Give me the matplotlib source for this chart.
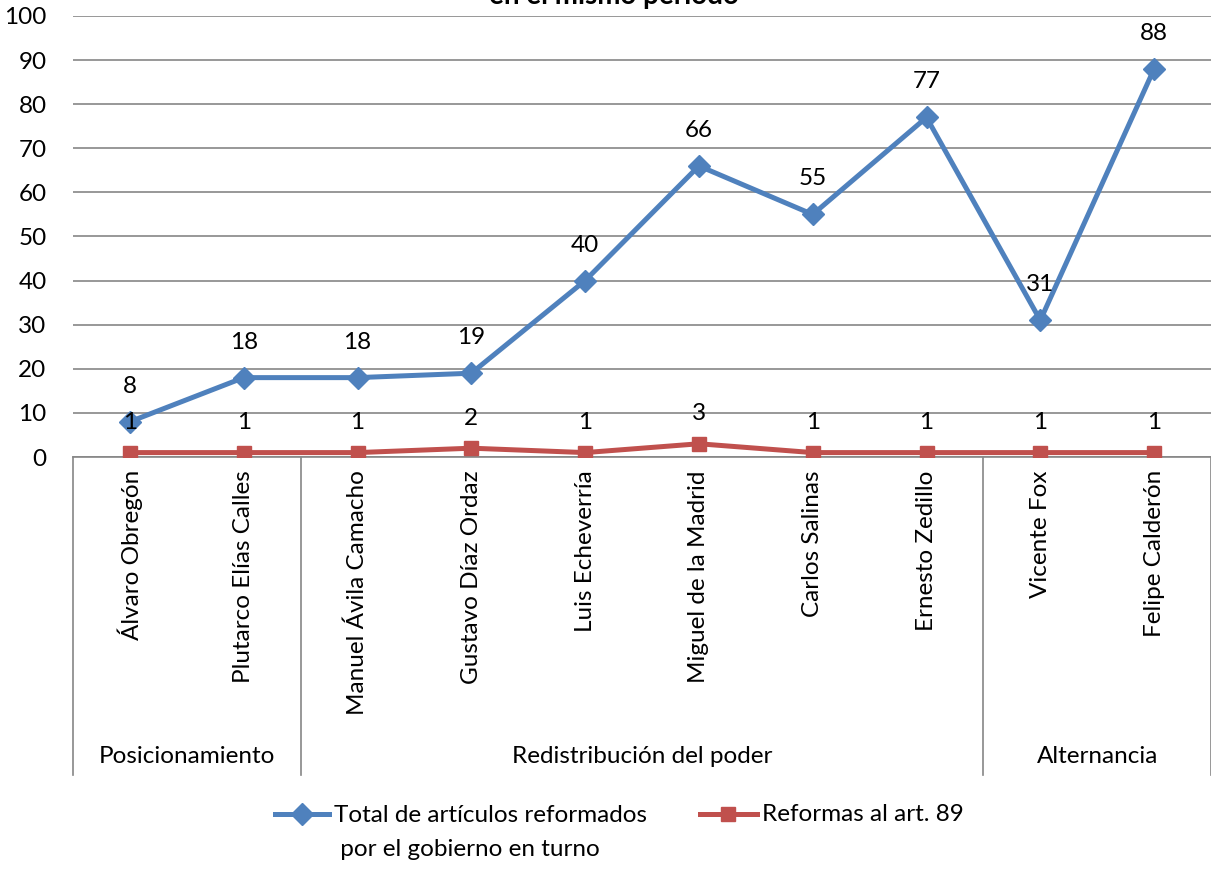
import matplotlib.pyplot as plt
import matplotlib.transforms as mtransforms
from matplotlib.lines import Line2D

plt.rcParams['font.family'] = ['Lato', 'DejaVu Sans']

# Datos
presidentes = ['Álvaro Obregón', 'Plutarco Elías Calles', 'Manuel Ávila Camacho',
               'Gustavo Díaz Ordaz', 'Luis Echeverría', 'Miguel de la Madrid',
               'Carlos Salinas', 'Ernesto Zedillo', 'Vicente Fox', 'Felipe Calderón']
total_reformados = [8, 18, 18, 19, 40, 66, 55, 77, 31, 88]
reformas_art89 = [1, 1, 1, 2, 1, 3, 1, 1, 1, 1]

grupos = ['Posicionamiento', 'Redistribución del poder', 'Alternancia']
grupo_inicio = [0, 2, 8]
grupo_fin = [1, 7, 9]

azul = '#4F81BD'
rojo = '#C0504D'
gris = '#868686'
fs = 17.5

fig = plt.figure(figsize=(12.11, 8.88), dpi=100)
ax = fig.add_axes([73 / 1211, (888 - 457) / 888, 1138 / 1211, 441 / 888])

x = list(range(len(presidentes)))
ax.plot(x, total_reformados, color=azul, lw=3.6, marker='D', ms=11, zorder=3)
ax.plot(x, reformas_art89, color=rojo, lw=3.6, marker='s', ms=10, zorder=3)

for xi, v in zip(x, total_reformados):
    ax.annotate(str(v), (xi, v), xytext=(0, 18), textcoords='offset points',
                ha='center', va='bottom', fontsize=fs)
for xi, v in zip(x, reformas_art89):
    ax.annotate(str(v), (xi, v), xytext=(0, 14), textcoords='offset points',
                ha='center', va='bottom', fontsize=fs)

ax.set_xlim(-0.5, len(presidentes) - 0.5)
ax.set_ylim(0, 100)
ax.set_yticks(range(0, 101, 10))
ax.yaxis.grid(True, color=gris, lw=1.2)
ax.set_axisbelow(True)
for s in ['top', 'right', 'left']:
    ax.spines[s].set_visible(False)
ax.spines['bottom'].set_color(gris)
ax.spines['bottom'].set_linewidth(1.2)
ax.tick_params(axis='y', length=0, labelsize=fs, pad=19)
ax.set_xticks([])

# Etiquetas de categorías de dos niveles
trans = mtransforms.blended_transform_factory(ax.transData, ax.transAxes)
for xi, nombre in zip(x, presidentes):
    ax.text(xi, -0.03, nombre, rotation=90, ha='center', va='top',
            fontsize=fs, transform=trans)
for g, a, b in zip(grupos, grupo_inicio, grupo_fin):
    ax.text((a + b) / 2, -0.68, g, ha='center', va='center', fontsize=fs, transform=trans)
separadores = [grupo_inicio[0] - 0.5] + [b + 0.5 for b in grupo_fin]
for sx in separadores:
    ax.plot([sx, sx], [0, -0.72], color=gris, lw=1.2, transform=trans, clip_on=False)

# Título (cortado en el original)
fig.text(614 / 1211, 1 - 4 / 888, 'en el mismo periodo', ha='center', va='baseline',
         fontsize=20, fontweight='bold')

# Leyenda
W, H = 1211, 888
ly = 1 - 814 / H
fig.add_artist(Line2D([275 / W, 329 / W], [ly, ly], color=azul, lw=3.6,
                      transform=fig.transFigure))
fig.add_artist(Line2D([302 / W], [ly], color=azul, marker='D', ms=11,
                      transform=fig.transFigure))
fig.text(334 / W, ly + 9 / H, 'Total de artículos reformados\n por el gobierno en turno',
         ha='left', va='top', fontsize=fs, linespacing=1.75)
fig.add_artist(Line2D([700 / W, 757 / W], [ly, ly], color=rojo, lw=3.6,
                      transform=fig.transFigure))
fig.add_artist(Line2D([728 / W], [ly], color=rojo, marker='s', ms=10,
                      transform=fig.transFigure))
fig.text(762 / W, ly, 'Reformas al art. 89', ha='left', va='center', fontsize=fs)

fig.savefig('out.png', dpi=100)
